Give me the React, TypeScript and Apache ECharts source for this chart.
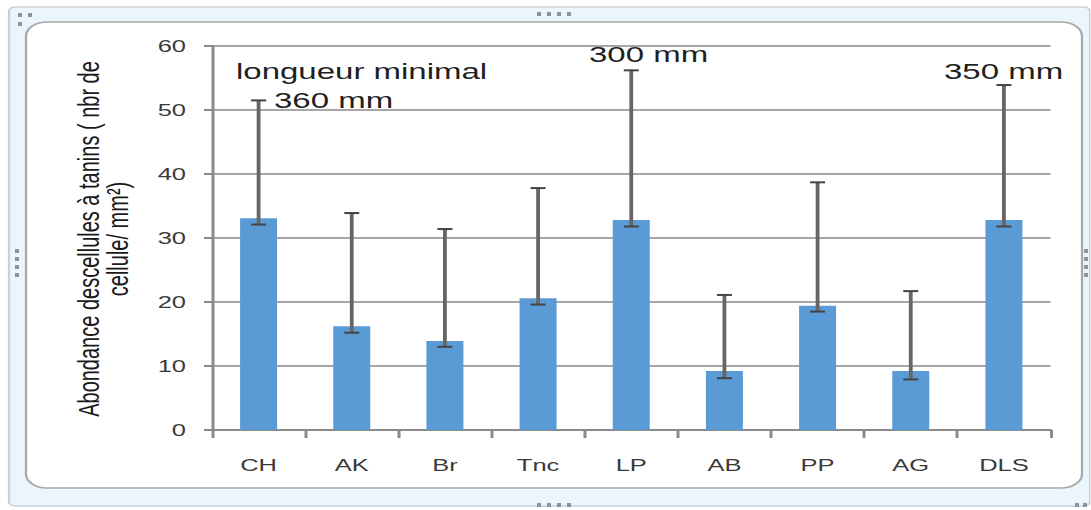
import React, { useEffect, useRef } from "react";
import * as echarts from "echarts";

const categories = ["CH", "AK", "Br", "Tnc", "LP", "AB", "PP", "AG", "DLS"];
const means = [33.1, 16.2, 13.9, 20.6, 32.8, 9.2, 19.4, 9.2, 32.8];
const errLow = [32.1, 15.2, 13.0, 19.6, 31.8, 8.1, 18.5, 7.9, 31.8];
const errHigh = [51.5, 33.9, 31.4, 37.8, 56.2, 21.1, 38.7, 21.7, 53.9];
const yTicks = { min: 0, max: 60, interval: 10 };

// the original picture is stretched horizontally; we draw at 1/S width and stretch
const S = 1.5;
const W = 1091 / S;
const H = 510;
const sx = (v: number) => v / S;

const dots = (x0: number, y0: number, dx: number, dy: number, n: number) => {
  const out: any[] = [];
  for (let i = 0; i < n; i++) {
    out.push({
      type: "rect",
      z: -50,
      shape: { x: sx(x0 + dx * i), y: y0 + dy * i, width: sx(4), height: 4 },
      style: { fill: "#8c9499" },
    });
  }
  return out;
};

export default function App() {
  const ref = useRef<HTMLDivElement>(null);
  useEffect(() => {
    document.body.style.margin = "0";
    const chart = echarts.init(ref.current!, null, { renderer: "svg" });
    const font = "'Liberation Sans', Arial, sans-serif";
    chart.setOption({
      animation: false,
      grid: { left: sx(212), right: sx(1091 - 1051), top: 46, bottom: H - 430 },
      xAxis: {
        type: "category",
        data: categories,
        axisLine: { lineStyle: { color: "#8a8a8a", width: 2 } },
        axisTick: { show: true, length: 8, lineStyle: { color: "#8a8a8a", width: 2 } },
        axisLabel: { color: "#3a3a3a", fontSize: 17, fontFamily: font, margin: 27 },
      },
      yAxis: {
        type: "value",
        min: yTicks.min,
        max: yTicks.max,
        interval: yTicks.interval,
        axisLine: { show: true, lineStyle: { color: "#8a8a8a", width: 2 } },
        axisTick: { show: true, length: sx(8), lineStyle: { color: "#8a8a8a", width: 2 } },
        splitLine: { lineStyle: { color: "#8a8a8a", width: 1.5 } },
        axisLabel: { color: "#3a3a3a", fontSize: 17, fontFamily: font, margin: sx(26) },
      },
      series: [
        {
          type: "bar",
          data: means,
          barWidth: sx(37),
          itemStyle: { color: "#5b9bd5" },
          z: 2,
        },
        {
          type: "custom",
          z: 3,
          data: categories.map((_, i) => [i, errLow[i], errHigh[i]]),
          renderItem: (params: any, api: any) => {
            const i = api.value(0);
            const lo = api.coord([i, api.value(1)]);
            const hi = api.coord([i, api.value(2)]);
            const x = lo[0];
            const hw = sx(7.5);
            return {
              type: "group",
              children: [
                { type: "line", shape: { x1: x, y1: lo[1], x2: x, y2: hi[1] }, style: { stroke: "#666666", lineWidth: sx(3.8) } },
                { type: "line", shape: { x1: x - hw, y1: lo[1], x2: x + hw, y2: lo[1] }, style: { stroke: "#444444", lineWidth: 2 } },
                { type: "line", shape: { x1: x - hw, y1: hi[1], x2: x + hw, y2: hi[1] }, style: { stroke: "#444444", lineWidth: 2 } },
              ],
            };
          },
        },
      ],
      graphic: [
        {
          type: "rect",
          z: -100,
          shape: { x: sx(9), y: 7, width: sx(1081), height: 499, r: 4 },
          style: { fill: "#eaf6fb", stroke: "#c9d1d5", lineWidth: 1.5 },
        },
        {
          type: "rect",
          z: -90,
          shape: { x: sx(26), y: 22, width: sx(1056), height: 466, r: 14 },
          style: { fill: "#ffffff", stroke: "#a8a8a8", lineWidth: 1.5 },
        },
        ...dots(537, 12, 10, 0, 4),
        ...dots(537, 503, 10, 0, 4),
        ...dots(15, 249, 0, 8, 4),
        ...dots(1084, 249, 0, 8, 4),
        ...dots(18, 13, 10, 0, 2),
        ...dots(18, 22, 0, 0, 1),
        ...dots(1075, 503, 8, 0, 2),
        {
          type: "text",
          z: 100,
          x: sx(88),
          y: 239,
          rotation: Math.PI / 2,
          style: {
            text: "Abondance descellules à tanins ( nbr de",
            fontSize: 20,
            fontFamily: font,
            fill: "#1a1a1a",
            align: "center",
            verticalAlign: "middle",
          },
        },
        {
          type: "text",
          z: 100,
          x: sx(117),
          y: 239,
          rotation: Math.PI / 2,
          style: {
            text: "cellule/ mm²)",
            fontSize: 20,
            fontFamily: font,
            fill: "#1a1a1a",
            align: "center",
            verticalAlign: "middle",
          },
        },
        {
          type: "text",
          z: 100,
          x: sx(236),
          y: 72,
          style: { text: "longueur minimal", fontSize: 22, fontFamily: font, fill: "#1f1f1f", verticalAlign: "middle" },
        },
        {
          type: "text",
          z: 100,
          x: sx(274),
          y: 101,
          style: { text: "360 mm", fontSize: 22, fontFamily: font, fill: "#1f1f1f", verticalAlign: "middle" },
        },
        {
          type: "text",
          z: 100,
          x: sx(589),
          y: 55,
          style: { text: "300 mm", fontSize: 22, fontFamily: font, fill: "#1f1f1f", verticalAlign: "middle" },
        },
        {
          type: "text",
          z: 100,
          x: sx(944),
          y: 72,
          style: { text: "350 mm", fontSize: 22, fontFamily: font, fill: "#1f1f1f", verticalAlign: "middle" },
        },
      ],
    });
    return () => chart.dispose();
  }, []);
  return (
    <div style={{ width: 1091, height: H, overflow: "hidden" }}>
      <div
        ref={ref}
        style={{ width: W, height: H, transform: `scaleX(${S})`, transformOrigin: "0 0" }}
      />
    </div>
  );
}
